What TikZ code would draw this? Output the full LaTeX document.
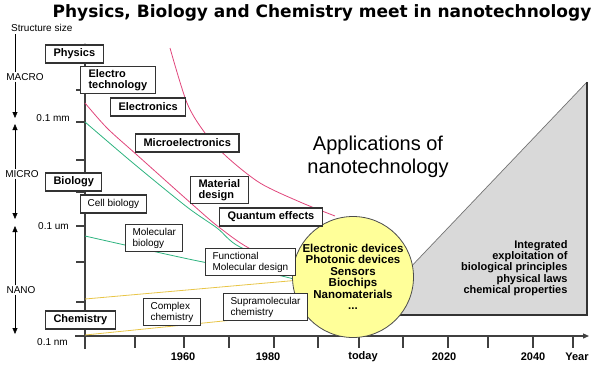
\documentclass[tikz,border=0pt]{standalone}
\usepackage{fontspec}
\setmainfont{Liberation Sans}
\newfontfamily\headfont{DejaVu Sans}
\usetikzlibrary{arrows.meta}
\definecolor{curvepink}{HTML}{E0457B}
\definecolor{curvegreen}{HTML}{2DB37F}
\definecolor{curveyellow}{HTML}{E8C547}
\definecolor{bubble}{HTML}{FFFF99}
\definecolor{future}{HTML}{D9D9D9}
\begin{document}
\begin{tikzpicture}[x=1pt,y=-1pt,
  topic/.style={draw=black!80,line width=1.1pt,fill=white,anchor=west,align=left,
    inner xsep=8pt,inner ysep=3pt,minimum height=18pt,
    font=\fontsize{11}{11.5}\selectfont\bfseries},
  subtopic/.style={topic,inner xsep=7pt,font=\fontsize{10}{11}\selectfont},
  small/.style={font=\fontsize{10}{12}\selectfont},
  year/.style={font=\fontsize{11}{12}\selectfont\bfseries},
  tip/.style={-{Triangle[length=6pt,width=5pt]}}]
\useasboundingbox (0,0) rectangle (601,381);
%title
\node[font=\headfont\fontsize{17}{20}\selectfont\bfseries] (title) at (322,13)
  {Physics, Biology and Chemistry meet in nanotechnology};
\node[small,anchor=west,inner sep=0pt] (size) at (11,28) {Structure size};

%size scale on the left
\node[small,inner sep=1pt] (macro) at (25,77) {MACRO};
\node[small,inner sep=1pt] (micro) at (22,174) {MICRO};
\node[small,inner sep=1pt] (nano) at (21,290) {NANO};
\coordinate (s0) at (15,34);
\coordinate (s1) at (15,118);
\coordinate (s2) at (15,124);
\coordinate (s3) at (15,219);
\coordinate (s4) at (15,226);
\coordinate (s5) at (15,334);
\draw (s0) -- (s0 |- macro.north);
\draw[tip] (s0 |- macro.south) -- (s1);
\draw[tip] (s0 |- micro.north) -- (s2);
\draw[tip] (s0 |- micro.south) -- (s3);
\draw[tip] (s0 |- nano.north) -- (s4);
\draw[tip] (s0 |- nano.south) -- (s5);
\node[small,anchor=east,inner sep=0pt] (mm) at (70,118) {0.1 mm};
\node[small,anchor=east,inner sep=0pt] (um) at (69,226) {0.1 um};
\node[small,anchor=east,inner sep=0pt] (nm) at (68,342) {0.1 nm};

%axes
\coordinate (o) at (85,336);
\draw[black!75,line width=1.2pt,tip] (85,349) -- (85,43);
\draw[black!75,line width=1.2pt,tip] (75,336) -- (589,336);
\foreach \y in {90,122,160,192,226,262,302}
  \draw[black!75,line width=1.2pt] (76,\y) -- (85,\y);
\foreach \x in {135,184,229,274,318,359,403,448,488,533,573}
  \draw[black!75,line width=1.2pt] (\x,336) -- (\x,348);
\node[year] (y1960) at (183,357) {1960};
\node[year] (y1980) at (268,357) {1980};
\node[year] (today) at (363,357) {today};
\node[year] (y2020) at (444,357) {2020};
\node[year] (y2040) at (533,357) {2040};
\node[year] (year) at (577,357) {Year};

%curves
\draw[curvepink,line width=0.8pt] plot[smooth] coordinates
  {(170,48) (187,103) (205,133) (227,157) (260,183) (300,202) (335,216)};
\draw[curvepink,line width=0.8pt] plot[smooth] coordinates
  {(85,103) (107,128) (137,155) (193,205) (220,228) (253,250) (300,262)};
\draw[curvegreen,line width=0.8pt] plot[smooth] coordinates
  {(85,122) (133,163) (187,207) (217,228) (240,247) (300,270)};
\draw[curvegreen,line width=0.8pt] plot[smooth] coordinates
  {(85,236) (125,245) (203,262) (277,275) (300,281)};
\draw[curveyellow,line width=0.8pt] (85,299) -- (300,280);
\draw[curveyellow,line width=0.8pt] (85,335) -- (322,311);

%future field
\fill[future] (365,315) -- (587,82) -- (587,315) -- cycle;
\draw[black!55,line width=0.7pt] (365,315) -- (587,82);
\draw[black!80,line width=1.2pt] (587,82) -- (587,315) -- (365,315);
\node[font=\fontsize{11}{11.3}\selectfont\bfseries,align=right,anchor=east] (integ)
  at (571,268) {Integrated\\exploitation of\\biological principles\\physical laws\\chemical properties};

%applications
\node[font=\fontsize{20}{23}\selectfont,align=center] (apptitle) at (378,157)
  {Applications of\\nanotechnology};
\node[circle,draw=black!70,line width=0.8pt,fill=bubble,minimum size=121pt,inner sep=0pt,
  align=center,font=\fontsize{11.5}{11.5}\selectfont\bfseries] (apps) at (353,277)
  {Electronic devices\\Photonic devices\\Sensors\\Biochips\\Nanomaterials\\...};

%fields
\node[topic] (physics) at (45,54) {Physics};
\node[topic] (electro) at (80,80) {Electro\\technology};
\node[topic] (electronics) at (110,107) {Electronics};
\node[topic] (microel) at (135,143) {Microelectronics};
\node[topic] (biology) at (45,182) {Biology};
\node[subtopic] (cellbio) at (80,204) {Cell biology};
\node[topic] (material) at (190,190) {Material\\design};
\node[topic] (quantum) at (219,217) {Quantum effects};
\node[subtopic] (molbio) at (125,238) {Molecular\\biology};
\node[subtopic] (funcmol) at (205,262) {Functional\\Molecular design};
\node[topic] (chemistry) at (45,320) {Chemistry};
\node[subtopic] (complex) at (143,312) {Complex\\chemistry};
\node[subtopic] (supra) at (223,307) {Supramolecular\\chemistry};
\end{tikzpicture}
\end{document}
